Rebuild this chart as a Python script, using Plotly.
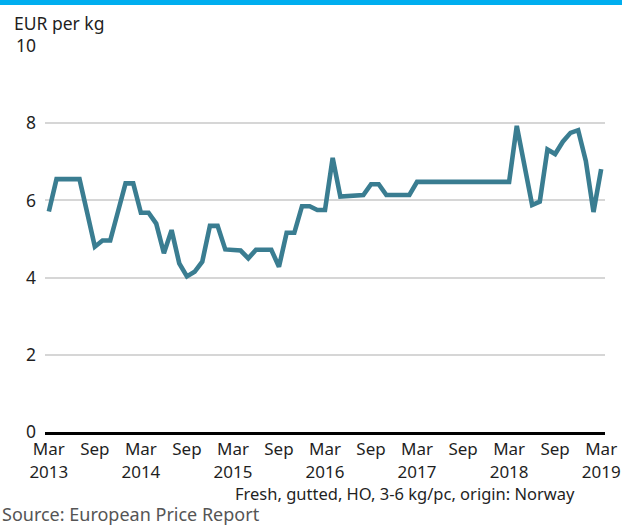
import plotly.graph_objects as go

# Monthly price, Mar 2013 - Mar 2019 (EUR per kg)
months = [
    "2013-03", "2013-04", "2013-05", "2013-06", "2013-07", "2013-08", "2013-09", "2013-10", "2013-11", "2013-12",
    "2014-01", "2014-02", "2014-03", "2014-04", "2014-05", "2014-06", "2014-07", "2014-08", "2014-09", "2014-10", "2014-11", "2014-12",
    "2015-01", "2015-02", "2015-03", "2015-04", "2015-05", "2015-06", "2015-07", "2015-08", "2015-09", "2015-10", "2015-11", "2015-12",
    "2016-01", "2016-02", "2016-03", "2016-04", "2016-05", "2016-06", "2016-07", "2016-08", "2016-09", "2016-10", "2016-11", "2016-12",
    "2017-01", "2017-02", "2017-03", "2017-04", "2017-05", "2017-06", "2017-07", "2017-08", "2017-09", "2017-10", "2017-11", "2017-12",
    "2018-01", "2018-02", "2018-03", "2018-04", "2018-05", "2018-06", "2018-07", "2018-08", "2018-09", "2018-10", "2018-11", "2018-12",
    "2019-01", "2019-02", "2019-03",
]
price = [
    5.71, 6.55, 6.55, 6.55, 6.55, 5.68, 4.80, 4.96, 4.96, 5.70,
    6.44, 6.44, 5.68, 5.68, 5.40, 4.63, 5.23, 4.37, 4.03, 4.15, 4.41, 5.34,
    5.34, 4.73, 4.70, 4.70, 4.50, 4.72, 4.72, 4.72, 4.28, 5.16, 5.16, 5.85,
    5.85, 5.75, 5.75, 7.10, 6.10, 6.12, 6.12, 6.14, 6.42, 6.42, 6.14, 6.14,
    6.14, 6.14, 6.48, 6.48, 6.48, 6.48, 6.48, 6.48, 6.48, 6.48, 6.48, 6.48,
    6.48, 6.48, 6.48, 7.93, 6.92, 5.88, 5.97, 7.32, 7.20, 7.52, 7.75, 7.82,
    7.02, 5.70, 6.81,
]
tick_labels = ["Mar<br>2013", "Sep", "Mar<br>2014", "Sep", "Mar<br>2015", "Sep",
               "Mar<br>2016", "Sep", "Mar<br>2017", "Sep", "Mar<br>2018", "Sep",
               "Mar<br>2019"]

idx = list(range(len(months)))
tick_pos = idx[::6]

FONT = "Noto Sans"
TEXT = "#1f1f1f"

fig = go.Figure(go.Scatter(
    x=idx, y=price, mode="lines",
    line=dict(color="#3a7d91", width=4.6),
    customdata=months,
    hovertemplate="%{customdata}: %{y:.2f}<extra></extra>",
))

L, R, T, B = 45, 17, 46, 93
W, H = 622, 525
pw, ph = W - L - R, H - T - B


def py(pix):
    """Pixel row in the figure -> paper y coordinate."""
    return (H - B - pix) / ph


def px(pix):
    """Pixel column in the figure -> paper x coordinate."""
    return (pix - L) / pw


annotations = [
    dict(text="EUR per kg", xref="paper", yref="paper",
         x=px(12), y=py(23), xanchor="left", yanchor="middle",
         showarrow=False, font=dict(family=FONT, size=17.5, color=TEXT)),
    dict(text="Fresh, gutted, HO, 3-6 kg/pc, origin: Norway",
         xref="paper", yref="paper", x=px(577), y=py(494),
         xanchor="right", yanchor="middle", showarrow=False,
         font=dict(family=FONT, size=16.5, color=TEXT)),
    dict(text="Source: European Price Report", xref="paper", yref="paper",
         x=px(0), y=py(514), xanchor="left", yanchor="middle",
         showarrow=False, font=dict(family=FONT, size=18, color="#555555")),
]

fig.update_layout(
    width=W, height=H,
    margin=dict(l=L, r=R, t=T, b=B),
    paper_bgcolor="white", plot_bgcolor="white",
    showlegend=False,
    font=dict(family=FONT, size=18, color=TEXT),
    xaxis=dict(
        range=[-0.5, len(months) - 0.5],
        tickmode="array", tickvals=tick_pos, ticktext=tick_labels,
        showgrid=False, zeroline=False,
        showline=True, linecolor="black", linewidth=3,
        ticks="", ticklabelstandoff=0, automargin=False,
        tickfont=dict(family=FONT, size=17, color=TEXT),
    ),
    yaxis=dict(
        range=[0, 10], tickvals=[0, 2, 4, 6, 8, 10],
        showgrid=True, gridcolor="#d6d6d6", gridwidth=1.5,
        zeroline=False, showline=False, ticks="",
        ticklabelstandoff=8, automargin=False,
        tickfont=dict(family=FONT, size=17.5, color=TEXT),
    ),
    shapes=[dict(
        type="rect", xref="paper", yref="paper",
        x0=px(0), x1=px(W), y0=py(5), y1=py(0),
        fillcolor="#00aeef", line=dict(width=0), layer="above",
    )],
    annotations=annotations,
)

fig.write_html("out.html")
